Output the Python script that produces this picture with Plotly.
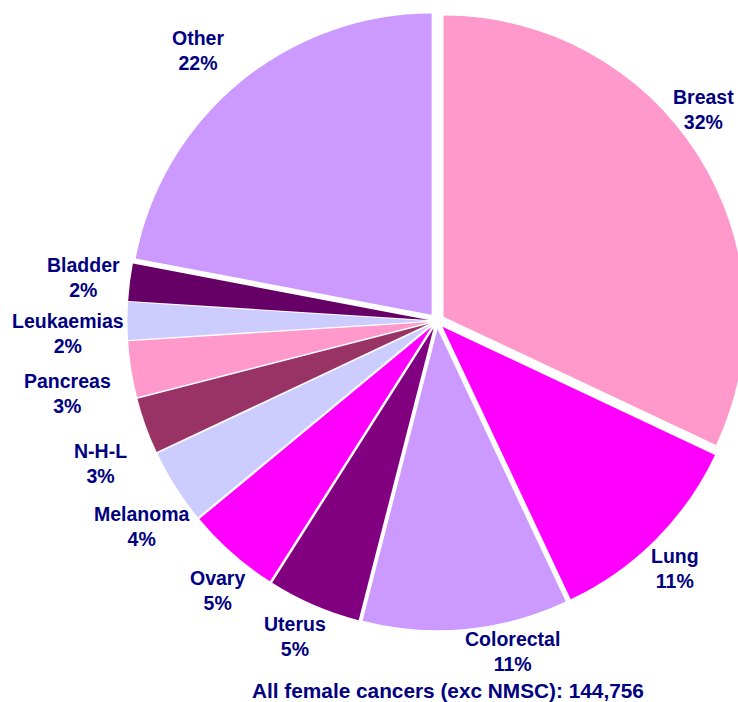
import plotly.graph_objects as go

categories = ["Breast", "Lung", "Colorectal", "Uterus", "Ovary", "Melanoma",
              "N-H-L", "Pancreas", "Leukaemias", "Bladder", "Other"]
percentages = [32, 11, 11, 5, 5, 4, 3, 3, 2, 2, 22]
colors = ["#FF99CC", "#FF00FF", "#CC99FF", "#800080", "#FF00FF", "#CCCCFF",
          "#993366", "#FF99CC", "#CCCCFF", "#660066", "#CC99FF"]
title_text = "All female cancers (exc NMSC): 144,756"

# label anchor positions in pixels (x, y from top)
label_pos = {
    "Breast": (703, 110), "Lung": (675, 568), "Colorectal": (512, 651),
    "Uterus": (295, 636), "Ovary": (217, 590), "Melanoma": (142, 526),
    "N-H-L": (100, 464), "Pancreas": (67, 393), "Leukaemias": (68, 333),
    "Bladder": (83, 277), "Other": (198, 50),
}
title_pos = (448, 690)

W, H = 746, 702  # slightly wider than the window so the pie is clipped at right like the reference
NAVY = "#000080"
FONT = "Liberation Sans, Arial, sans-serif"
FS = 19.5
FS_TITLE = 20.8

cx, cy, R = 436.5, 321, 309
fig = go.Figure(go.Pie(
    labels=categories, values=percentages, sort=False, direction="clockwise",
    rotation=0, marker=dict(colors=colors, line=dict(width=0)),
    pull=[0.0266] * len(categories), textinfo="none", hoverinfo="label+percent",
    domain=dict(x=[(cx - R) / W, 1.0], y=[1 - (cy + R + 6) / H, 1 - (cy - R - 6) / H]),
))

annotations = []
for cat, pct in zip(categories, percentages):
    px, py = label_pos[cat]
    annotations.append(dict(
        x=px / W, y=1 - py / H, xref="paper", yref="paper",
        text=f"<b>{cat}<br>{pct}%</b>", showarrow=False,
        xanchor="center", yanchor="middle",
        font=dict(family=FONT, size=FS, color=NAVY),
    ))
annotations.append(dict(
    x=title_pos[0] / W, y=1 - title_pos[1] / H, xref="paper", yref="paper",
    text=f"<b>{title_text}</b>", showarrow=False,
    xanchor="center", yanchor="middle",
    font=dict(family=FONT, size=FS_TITLE, color=NAVY),
))

fig.update_layout(
    width=W, height=H, margin=dict(l=0, r=0, t=0, b=0),
    paper_bgcolor="white", plot_bgcolor="white", showlegend=False,
    annotations=annotations,
)

fig.write_html(
    "out.html",
    config={"displayModeBar": False},
    post_script=("document.body.style.margin='0';"
                 "document.body.style.overflow='hidden';"
                 "document.documentElement.style.overflow='hidden';"),
)
